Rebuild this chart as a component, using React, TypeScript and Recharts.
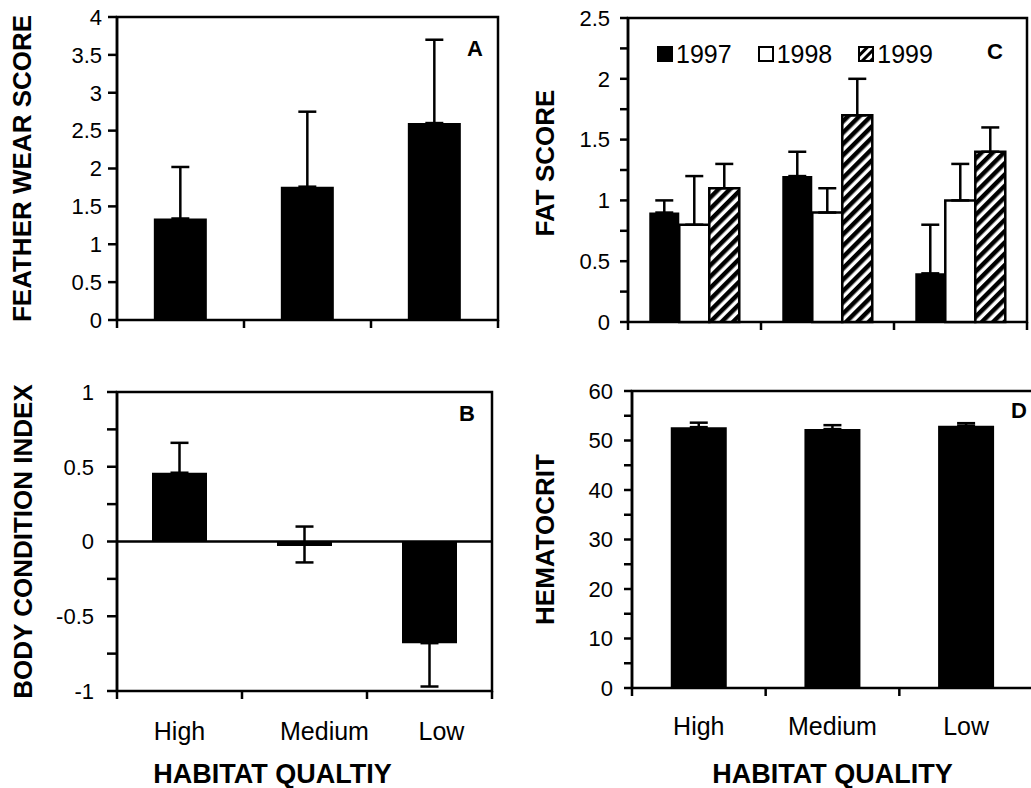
import React from 'react';
import {
    BarChart,
    Bar,
    XAxis,
    YAxis,
    ErrorBar,
    ReferenceArea,
    ReferenceLine,
    Legend,
} from 'recharts';

const FONT = '"Liberation Sans", Arial, Helvetica, sans-serif';

// categories
const habitats = ['High', 'Medium', 'Low'];

// A - feather wear
const featherWear = [1.34, 1.76, 2.6];
const featherWearErr = [0.68, 0.99, 1.1];
const featherTicks = [0, 0.5, 1, 1.5, 2, 2.5, 3, 3.5, 4];

// B - body condition (asymmetric error bars)
const bodyCondition = [0.46, -0.03, -0.68];
const bodyErrLow = [0, 0.11, 0.29];
const bodyErrHigh = [0.2, 0.13, 0];
const bodyTicks = [-1, -0.75, -0.5, -0.25, 0, 0.25, 0.5, 0.75, 1];

// C - fat score by year
const years = ['1997', '1998', '1999'];
const fat1997 = [0.9, 1.2, 0.4];
const fat1997Err = [0.1, 0.2, 0.4];
const fat1998 = [0.8, 0.9, 1.0];
const fat1998Err = [0.4, 0.2, 0.3];
const fat1999 = [1.1, 1.7, 1.4];
const fat1999Err = [0.2, 0.3, 0.2];
const fatTicks = [0, 0.25, 0.5, 0.75, 1, 1.25, 1.5, 1.75, 2, 2.25, 2.5];

// D - hematocrit
const hematocrit = [52.7, 52.3, 53.0];
const hematocritErr = [0.9, 0.8, 0.5];
const hematocritTicks = [0, 5, 10, 15, 20, 25, 30, 35, 40, 45, 50, 55, 60];

const featherData = habitats.map((h, i) => ({
    habitat: h,
    value: featherWear[i],
    err: [0, featherWearErr[i]],
}));

const bodyData = habitats.map((h, i) => ({
    habitat: h,
    value: bodyCondition[i],
    err: [bodyErrLow[i], bodyErrHigh[i]],
}));

const fatData = habitats.map((h, i) => ({
    habitat: h,
    v97: fat1997[i],
    v98: fat1998[i],
    v99: fat1999[i],
    e97: [0, fat1997Err[i]],
    e98: [0, fat1998Err[i]],
    e99: [0, fat1999Err[i]],
}));

const hematocritData = habitats.map((h, i) => ({
    habitat: h,
    value: hematocrit[i],
    err: [0, hematocritErr[i]],
}));

const halfStep = (step: number) => (v: number) =>
    Math.abs(v / step - Math.round(v / step)) < 1e-9 ? String(v) : '';

const LINE_W = 2.5;

// category label centred in the band, tick marks on the band edges
const BoundaryTick = (props: any) => {
    const { x, y, payload, index, half, showLabel, labelDy, shift } = props;
    const h = payload && payload.offset > 5 ? payload.offset : half;
    const last = index === habitats.length - 1;
    return (
        <g>
            <line x1={x - h} x2={x - h} y1={y} y2={y + 8} stroke="#000" strokeWidth={LINE_W} />
            {last && <line x1={x + h} x2={x + h} y1={y} y2={y + 8} stroke="#000" strokeWidth={LINE_W} />}
            {showLabel && (
                <text
                    x={x + (shift ? shift[index] : 0)}
                    y={y + labelDy}
                    textAnchor="middle"
                    fontSize={25}
                    fontFamily={FONT}
                    fill="#000"
                >
                    {payload.value}
                </text>
            )}
        </g>
    );
};

const yTick = { fill: '#000', fontSize: 22, fontFamily: FONT };
const blackLine = { stroke: '#000', strokeWidth: LINE_W };

const yLabel = (value: string, offset: number) => ({
    value,
    angle: -90,
    position: 'insideLeft' as const,
    offset,
    fill: '#000',
    fontSize: 26,
    fontWeight: 'bold',
    fontFamily: FONT,
    style: { textAnchor: 'middle' },
});

const panelLetter = (value: string, offset: number, dy: number) => ({
    value,
    position: 'insideTopRight' as const,
    offset,
    dy,
    fill: '#000',
    fontSize: 22,
    fontWeight: 'bold',
    fontFamily: FONT,
});

const HatchSwatch = () => (
    <svg width={16} height={16}>
        <defs>
            <pattern id="hatchLegend" width="6" height="6" patternUnits="userSpaceOnUse" patternTransform="rotate(45)">
                <rect width="6" height="6" fill="#fff" />
                <rect width="3" height="6" fill="#000" />
            </pattern>
        </defs>
        <rect x={1} y={1} width={14} height={14} fill="url(#hatchLegend)" stroke="#000" strokeWidth={2} />
    </svg>
);

const FatLegend = () => (
    <div style={{ display: 'flex', alignItems: 'center', fontFamily: FONT, fontSize: 25, color: '#000', lineHeight: '30px' }}>
        {years.map((yr, i) => (
            <span key={yr} style={{ display: 'flex', alignItems: 'center', marginRight: i === 2 ? 0 : 26 }}>
                {i === 0 && (
                    <svg width={16} height={16}>
                        <rect x={0} y={0} width={16} height={16} fill="#000" />
                    </svg>
                )}
                {i === 1 && (
                    <svg width={16} height={16}>
                        <rect x={1} y={1} width={14} height={14} fill="#fff" stroke="#000" strokeWidth={2} />
                    </svg>
                )}
                {i === 2 && <HatchSwatch />}
                <span style={{ marginLeft: 3 }}>{yr}</span>
            </span>
        ))}
    </div>
);

export default function App() {
    return (
        <div
            style={{
                position: 'absolute',
                left: 0,
                top: 0,
                width: 1031,
                height: 788,
                overflow: 'hidden',
                background: '#fff',
            }}
        >
            {/* A: feather wear */}
            <div style={{ position: 'absolute', left: 0, top: 0 }}>
                <BarChart
                    width={520}
                    height={340}
                    data={featherData}
                    margin={{ top: 17, right: 22, bottom: 0, left: 0 }}
                    barCategoryGap="29%"
                >
                    <XAxis
                        dataKey="habitat"
                        height={20}
                        interval={0}
                        tickLine={false}
                        axisLine={false}
                        tickSize={0}
                        tickMargin={0}
                        tick={<BoundaryTick half={63.5} showLabel={false} />}
                    />
                    <YAxis
                        type="number"
                        width={117}
                        domain={[0, 4]}
                        ticks={featherTicks}
                        interval={0}
                        tick={yTick}
                        tickLine={blackLine}
                        axisLine={blackLine}
                        tickSize={9}
                        tickMargin={6}
                        label={yLabel('FEATHER WEAR SCORE', 22)}
                    />
                    <ReferenceArea
                        y1={0}
                        y2={4}
                        fill="none"
                        stroke="#000"
                        strokeWidth={LINE_W}
                        strokeOpacity={1}
                        label={panelLetter('A', 15, 8)}
                    />
                    <Bar dataKey="value" fill="#000" isAnimationActive={false}>
                        <ErrorBar dataKey="err" direction="y" width={9} stroke="#000" strokeWidth={LINE_W} isAnimationActive={false} />
                    </Bar>
                </BarChart>
            </div>

            {/* C: fat score */}
            <div style={{ position: 'absolute', left: 520, top: 0 }}>
                <BarChart
                    width={511}
                    height={340}
                    data={fatData}
                    margin={{ top: 18, right: 4, bottom: 0, left: 0 }}
                    barCategoryGap="16%"
                    barGap={0}
                >
                    <defs>
                        <pattern id="hatch" width="8" height="8" patternUnits="userSpaceOnUse" patternTransform="rotate(45)">
                            <rect width="8" height="8" fill="#fff" />
                            <rect width="4.5" height="8" fill="#000" />
                        </pattern>
                    </defs>
                    <XAxis
                        dataKey="habitat"
                        height={18}
                        interval={0}
                        tickLine={false}
                        axisLine={false}
                        tickSize={0}
                        tickMargin={0}
                        tick={<BoundaryTick half={66.5} showLabel={false} />}
                    />
                    <YAxis
                        type="number"
                        width={108}
                        domain={[0, 2.5]}
                        ticks={fatTicks}
                        interval={0}
                        tick={yTick}
                        tickFormatter={halfStep(0.5)}
                        tickLine={blackLine}
                        axisLine={blackLine}
                        tickSize={8}
                        tickMargin={10}
                        label={{ ...yLabel('FAT SCORE', 25), dy: -7 }}
                    />
                    <ReferenceArea
                        y1={0}
                        y2={2.5}
                        fill="none"
                        stroke="#000"
                        strokeWidth={LINE_W}
                        strokeOpacity={1}
                        label={panelLetter('C', 24, 1)}
                    />
                    <Legend
                        content={<FatLegend />}
                        layout="horizontal"
                        verticalAlign="middle"
                        align="center"
                        wrapperStyle={{ top: 39, left: 137, width: 360 }}
                    />
                    <Bar dataKey="v97" name="1997" fill="#000" isAnimationActive={false}>
                        <ErrorBar dataKey="e97" direction="y" width={9} stroke="#000" strokeWidth={LINE_W} isAnimationActive={false} />
                    </Bar>
                    <Bar dataKey="v98" name="1998" fill="#fff" stroke="#000" strokeWidth={LINE_W} isAnimationActive={false}>
                        <ErrorBar dataKey="e98" direction="y" width={9} stroke="#000" strokeWidth={LINE_W} isAnimationActive={false} />
                    </Bar>
                    <Bar dataKey="v99" name="1999" fill="url(#hatch)" stroke="#000" strokeWidth={LINE_W} isAnimationActive={false}>
                        <ErrorBar dataKey="e99" direction="y" width={9} stroke="#000" strokeWidth={LINE_W} isAnimationActive={false} />
                    </Bar>
                </BarChart>
            </div>

            {/* B: body condition */}
            <div style={{ position: 'absolute', left: 0, top: 340 }}>
                <BarChart
                    width={520}
                    height={448}
                    data={bodyData}
                    margin={{ top: 52, right: 28, bottom: 0, left: 0 }}
                    barCategoryGap="28%"
                >
                    <XAxis
                        dataKey="habitat"
                        height={97}
                        interval={0}
                        tickLine={false}
                        axisLine={false}
                        tickSize={0}
                        tickMargin={0}
                        tick={<BoundaryTick half={62.5} showLabel labelDy={49} shift={[0, 20, 12]} />}
                        label={{
                            value: 'HABITAT QUALTIY',
                            position: 'insideBottom',
                            offset: 5,
                            dx: -32,
                            fill: '#000',
                            fontSize: 27,
                            fontWeight: 'bold',
                            fontFamily: FONT,
                        }}
                    />
                    <YAxis
                        type="number"
                        width={117}
                        domain={[-1, 1]}
                        ticks={bodyTicks}
                        interval={0}
                        tick={yTick}
                        tickFormatter={halfStep(0.5)}
                        tickLine={blackLine}
                        axisLine={blackLine}
                        tickSize={10}
                        tickMargin={13}
                        label={yLabel('BODY CONDITION INDEX', 23)}
                    />
                    <ReferenceArea
                        y1={-1}
                        y2={1}
                        fill="none"
                        stroke="#000"
                        strokeWidth={LINE_W}
                        strokeOpacity={1}
                        label={panelLetter('B', 17, -4)}
                    />
                    <ReferenceLine y={0} stroke="#000" strokeWidth={LINE_W} />
                    <Bar dataKey="value" fill="#000" isAnimationActive={false}>
                        <ErrorBar dataKey="err" direction="y" width={9} stroke="#000" strokeWidth={LINE_W} isAnimationActive={false} />
                    </Bar>
                </BarChart>
            </div>

            {/* D: hematocrit */}
            <div style={{ position: 'absolute', left: 520, top: 340 }}>
                <BarChart
                    width={520}
                    height={448}
                    data={hematocritData}
                    margin={{ top: 51, right: 7, bottom: 0, left: 0 }}
                    barCategoryGap="29%"
                >
                    <XAxis
                        dataKey="habitat"
                        height={100}
                        interval={0}
                        tickLine={false}
                        axisLine={false}
                        tickSize={0}
                        tickMargin={0}
                        tick={<BoundaryTick half={66.8} showLabel labelDy={47} />}
                        label={{
                            value: 'HABITAT QUALITY',
                            position: 'insideBottom',
                            offset: 5,
                            fill: '#000',
                            fontSize: 27,
                            fontWeight: 'bold',
                            fontFamily: FONT,
                        }}
                    />
                    <YAxis
                        type="number"
                        width={112}
                        domain={[0, 60]}
                        ticks={hematocritTicks}
                        interval={0}
                        tick={yTick}
                        tickFormatter={halfStep(10)}
                        tickLine={blackLine}
                        axisLine={blackLine}
                        tickSize={8}
                        tickMargin={11}
                        label={yLabel('HEMATOCRIT', 25)}
                    />
                    <ReferenceArea
                        y1={0}
                        y2={60}
                        fill="none"
                        stroke="#000"
                        strokeWidth={LINE_W}
                        strokeOpacity={1}
                        label={panelLetter('D', 6, 5)}
                    />
                    <Bar dataKey="value" fill="#000" isAnimationActive={false}>
                        <ErrorBar dataKey="err" direction="y" width={9} stroke="#000" strokeWidth={LINE_W} isAnimationActive={false} />
                    </Bar>
                </BarChart>
            </div>
        </div>
    );
}
